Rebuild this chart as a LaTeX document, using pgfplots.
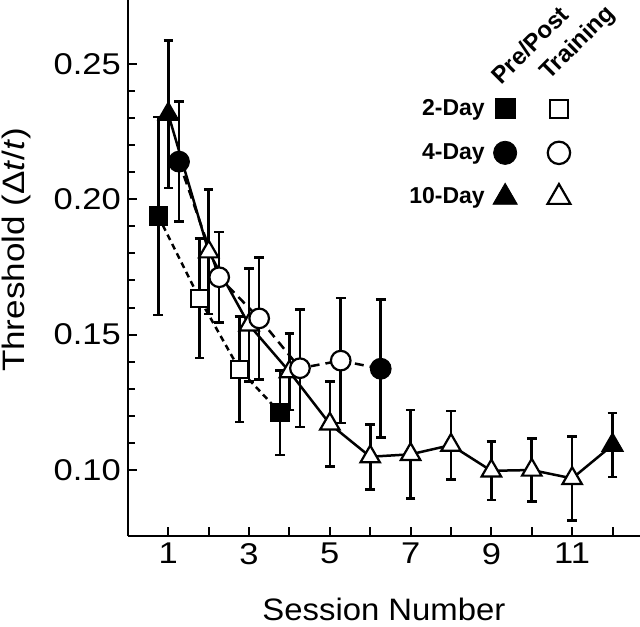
\documentclass[border=0pt]{standalone}
\usepackage{fontspec}
\setmainfont{Liberation Sans}
\newfontfamily\tickfont{Liberation Sans}[FakeStretch=1.15]
\newfontfamily\ylabfont{Liberation Sans}[FakeStretch=1.13]
\newfontfamily\xlabfont{Liberation Sans}[FakeStretch=1.06]
\usepackage{pgfplots}
\pgfplotsset{compat=1.18}
\usepackage{pgfplotstable}

% session, threshold, error (+/-), class: p = pre/post, t = training
\pgfplotstableread{
x     y      e      c
0.75  0.1938 0.0366 p
1.77  0.1634 0.0220 t
2.76  0.1372 0.0194 t
3.765 0.1212 0.0156 p
}\twoday
\pgfplotstableread{
x     y      e      c
1.265 0.2139 0.0222 p
2.26  0.1712 0.0167 t
3.25  0.1560 0.0225 t
4.26  0.1376 0.0217 t
5.27  0.1404 0.0231 t
6.26  0.1374 0.0255 p
}\fourday
\pgfplotstableread{
x   y      e      c
1   0.2314 0.0272 p
2   0.1806 0.0230 t
3   0.1536 0.0209 t
4   0.1363 0.0141 t
5   0.1170 0.0157 t
6   0.1049 0.0120 t
7   0.1058 0.0163 t
8   0.1092 0.0126 t
9   0.0997 0.0108 t
10  0.1000 0.0117 t
11  0.0969 0.0155 t
12  0.1092 0.0118 p
}\tenday

\pgfplotsset{
  errs/.style={
    error bars/.cd, y dir=both, y explicit,
    error bar style={solid, line width=1.3pt, black},
    error mark options={solid, rotate=90, line width=1.3pt, mark size=2.4pt, black}},
}

\begin{document}
\begin{tikzpicture}
\begin{axis}[
    name=ax,
    scale only axis, width=256pt, height=268pt,
    xmin=0, xmax=12.68, ymin=0.0756, ymax=0.2736,
    axis x line=bottom, axis y line=left,
    axis line style={-, line width=1.2pt},
    xtick={1,...,12}, xticklabels={1,,3,,5,,7,,9,,11,},
    ytick={0.10,0.15,0.20,0.25}, minor y tick num=4,
    tick align=inside, major tick length=4.5pt, minor tick length=3.5pt,
    tick style={black, line width=1pt},
    /pgf/number format/assume math mode=true,
    yticklabel style={/pgf/number format/.cd, fixed, fixed zerofill, precision=2},
    ticklabel style={font=\tickfont\fontsize{15}{18}\selectfont},
    xlabel={Session Number},
    xlabel style={font=\xlabfont\fontsize{15.5}{18}\selectfont,
        at={(axis description cs:0.5,-0.1567)}, anchor=base},
    ylabel={Threshold (Δ\textit{t}/\textit{t})},
    ylabel style={font=\ylabfont\fontsize{15.5}{18}\selectfont,
        at={(axis description cs:-0.2012,0.5336)}, anchor=base},
    scatter/classes={p={fill=black}, t={fill=white}},
    legend columns=2, legend plot pos=right, legend cell align=right,
    legend image code/.code={\path (-6pt,0pt) (6pt,0pt); \draw[#1] plot coordinates {(0pt,0pt)};},
    legend style={at={(axis cs:6.71,0.2400)}, anchor=north west, draw=none, fill=none,
        font=\bfseries\fontsize{11.5}{13}\selectfont, row sep=8.5pt, column sep=2pt,
        /tikz/every even column/.append style={column sep=8.5pt}},
  ]
% 10-Day
\addplot[black, solid, line width=1.25pt, forget plot,
    scatter, scatter src=explicit symbolic,
    mark=triangle*, mark options={solid, line width=1.1pt, draw=black, mark size=5.6pt},
    errs] table[x=x, y=y, y error=e, meta=c] {\tenday};
% 4-Day
\addplot[black, line width=1.25pt, dash pattern=on 4.5pt off 3pt, forget plot,
    scatter, scatter src=explicit symbolic,
    mark=*, mark options={solid, line width=1.1pt, draw=black, mark size=4.9pt},
    errs] table[x=x, y=y, y error=e, meta=c] {\fourday};
% 2-Day
\addplot[black, line width=1.25pt, dash pattern=on 3pt off 2.2pt, forget plot,
    scatter, scatter src=explicit symbolic,
    mark=square*, mark options={solid, line width=1.1pt, draw=black, mark size=4.3pt},
    errs] table[x=x, y=y, y error=e, meta=c] {\twoday};

\addlegendimage{only marks, mark=square*, mark size=5pt, black, fill=black}
\addlegendentry{2-Day}
\addlegendimage{only marks, mark=square*, mark size=4.6pt, black, fill=white, mark options={line width=1.1pt}}
\addlegendentry{\relax}
\addlegendimage{only marks, mark=*, mark size=5.8pt, black, fill=black}
\addlegendentry{4-Day}
\addlegendimage{only marks, mark=*, mark size=5.6pt, black, fill=white, mark options={line width=1.1pt}}
\addlegendentry{\relax}
\addlegendimage{only marks, mark=triangle*, mark size=7pt, black, fill=black}
\addlegendentry{10-Day}
\addlegendimage{only marks, mark=triangle*, mark size=6.6pt, black, fill=white, mark options={line width=1.1pt}}
\addlegendentry{\relax}

\node[rotate=45, font=\bfseries\fontsize{12}{14}\selectfont] at (axis cs:9.95,0.257) {Pre/Post};
\node[rotate=45, font=\bfseries\fontsize{12}{14}\selectfont] at (axis cs:11.15,0.2575) {Training};
\end{axis}
\pgfresetboundingbox
\path ([shift={(-63.95pt,-45pt)}]ax.south west) rectangle (ax.north east);
\end{tikzpicture}
\end{document}
